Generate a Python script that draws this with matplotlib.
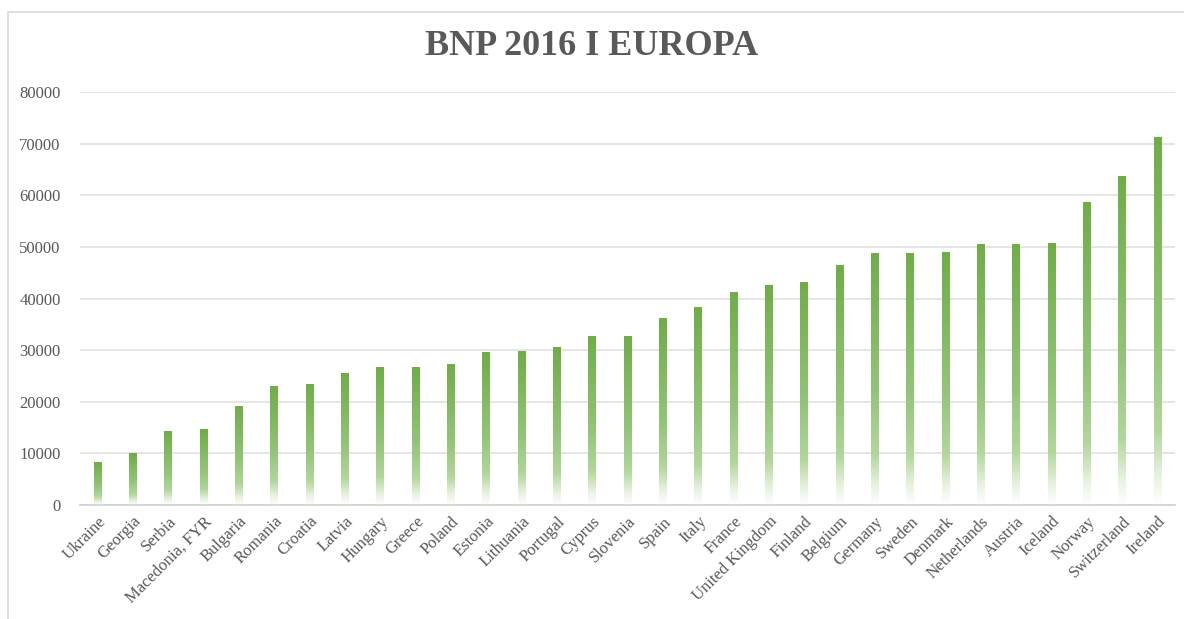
import matplotlib.pyplot as plt
import numpy as np
from matplotlib.colors import LinearSegmentedColormap
from matplotlib.patches import Rectangle

countries = [
    "Ukraine", "Georgia", "Serbia", "Macedonia, FYR", "Bulgaria", "Romania",
    "Croatia", "Latvia", "Hungary", "Greece", "Poland", "Estonia", "Lithuania",
    "Portugal", "Cyprus", "Slovenia", "Spain", "Italy", "France",
    "United Kingdom", "Finland", "Belgium", "Germany", "Sweden", "Denmark",
    "Netherlands", "Austria", "Iceland", "Norway", "Switzerland", "Ireland",
]
gdp_2016 = [
    8200, 9900, 14300, 14700, 19000, 22900,
    23300, 25500, 26700, 26700, 27200, 29600, 29800,
    30500, 32600, 32600, 36200, 38200, 41100,
    42500, 43200, 46400, 48800, 48800, 49000,
    50500, 50500, 50700, 58600, 63700, 71300,
]
y_ticks = [0, 10000, 20000, 30000, 40000, 50000, 60000, 70000, 80000]

TEXT = "#595959"
GREEN = "#70AD47"

# white at the foot of each bar, full green at the top
fade = LinearSegmentedColormap.from_list(
    "fade",
    [(0.0, "#FFFFFF"), (0.08, "#E6F2DE"), (0.2, "#B2D79C"),
     (0.45, "#93C478"), (1.0, GREEN)],
)
grad = np.linspace(0, 1, 256).reshape(-1, 1)

plt.rcParams["font.family"] = ["Liberation Serif", "DejaVu Serif"]

fig = plt.figure(figsize=(11.84, 6.19), dpi=100)
ax = fig.add_axes([0.0676, 0.184, 0.925, 0.667])

x = np.arange(len(countries))
width = 0.22
bars = ax.bar(x, gdp_2016, width=width, color="none", edgecolor="none")
for bar, value in zip(bars, gdp_2016):
    x0 = bar.get_x()
    ax.imshow(grad, cmap=fade, origin="lower", aspect="auto",
              extent=[x0, x0 + bar.get_width(), 0, value], zorder=2)

ax.set_xlim(-0.5, len(countries) - 0.5)
ax.set_ylim(0, 80000)
ax.set_yticks(y_ticks)
ax.set_yticklabels([str(v) for v in y_ticks], fontsize=12, color=TEXT)
ax.set_xticks(x)
ax.set_xticklabels(countries, rotation=45, ha="right", rotation_mode="anchor",
                   fontsize=12, color=TEXT)
ax.tick_params(axis="both", length=0)
ax.tick_params(axis="y", pad=14)
ax.tick_params(axis="x", pad=6)

for s in ["top", "right", "left"]:
    ax.spines[s].set_visible(False)
ax.spines["bottom"].set_color("#D0D0D0")
ax.spines["bottom"].set_linewidth(1.2)
ax.grid(axis="y", color="#E0E0E0", linewidth=1.2)
ax.set_axisbelow(True)

fig.text(0.5, 0.925, "BNP 2016 I EUROPA", ha="center", va="center",
         fontsize=26, fontweight="bold", color=TEXT)

# outer chart frame
fig.patches.append(Rectangle((8 / 1184, -0.1), 1.2, 1 - 12 / 619 + 0.1,
                             transform=fig.transFigure, fill=False,
                             edgecolor="#D9D9D9", linewidth=1.2))

fig.savefig("out.png", dpi=100)
plt.close(fig)
